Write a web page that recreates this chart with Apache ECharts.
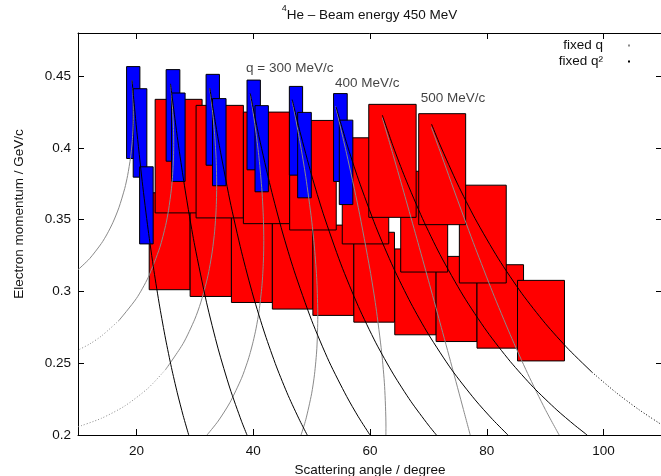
<!DOCTYPE html>
<html>
<head>
<meta charset="utf-8">
<script src="https://cdn.jsdelivr.net/npm/echarts@6/dist/echarts.min.js"></script>
<style>
  html, body { margin: 0; padding: 0; background: #fff; }
  #chart { width: 661px; height: 476px; }
</style>
</head>
<body>
<div id="chart"></div>
<script>
// 4He kinematic coverage at 450 MeV beam energy.
// Acceptance boxes: [theta min, theta max, p min, p max] (degree, GeV/c)
const lowerRedBoxes = [
  [22.19, 29.20, 0.3012, 0.3687],
  [29.20, 36.27, 0.2965, 0.3624],
  [36.27, 43.28, 0.2923, 0.3572],
  [43.28, 50.22, 0.2877, 0.3516],
  [50.22, 57.23, 0.2833, 0.3462],
  [57.23, 64.19, 0.2786, 0.3412],
  [64.24, 71.32, 0.2698, 0.3296],
  [71.32, 78.32, 0.2651, 0.3244],
  [78.32, 86.29, 0.2605, 0.3186],
  [85.26, 93.30, 0.2516, 0.3077]
];
const upperRedBoxes = [
  [23.21, 31.25, 0.3547, 0.4338],
  [30.22, 38.32, 0.3512, 0.4296],
  [38.32, 46.24, 0.3472, 0.4249],
  [46.24, 54.22, 0.3428, 0.4191],
  [55.25, 63.21, 0.3331, 0.4070],
  [65.26, 73.30, 0.3135, 0.3837],
  [59.79, 67.90, 0.3516, 0.4303],
  [75.30, 83.33, 0.3059, 0.3740],
  [68.34, 76.38, 0.3465, 0.4238]
];
const blueBoxes = [
  [18.32, 20.60, 0.3926, 0.4566],
  [19.45, 21.79, 0.3796, 0.4412],
  [20.55, 22.87, 0.3331, 0.3868],
  [25.09, 27.44, 0.3907, 0.4545],
  [26.02, 28.34, 0.3766, 0.4382],
  [31.93, 34.22, 0.3879, 0.4512],
  [33.03, 35.35, 0.3736, 0.4343],
  [38.94, 41.23, 0.3847, 0.4472],
  [40.31, 42.60, 0.3694, 0.4294],
  [46.19, 48.46, 0.3810, 0.4428],
  [47.61, 49.95, 0.3652, 0.4247],
  [53.76, 56.10, 0.3766, 0.4378],
  [54.74, 57.06, 0.3605, 0.4193]
];

// Lines of constant three-momentum transfer q: [theta, p]
const fixedQ150 = [[19.25,0.4470],[19.3,0.4442],[19.4,0.4370],[19.45,0.4313],[19.47,0.4243],[19.45,0.4174],[19.4,0.4119],[19.3,0.4052],[19.25,0.4027],[19,0.3933],[18.5,0.3808],[18,0.3717],[17,0.3583],[16,0.3482],[15,0.3401],[14,0.3334],[12,0.3229],[10,0.3151]];
const fixedQ200 = [[25.84,0.4442],[26,0.4374],[26.2,0.4267],[26.35,0.4136],[26.39,0.4031],[26.35,0.3929],[26.2,0.3808],[26,0.3715],[25.5,0.3565],[25,0.3459],[24,0.3305],[22,0.3096],[20,0.2951],[17,0.2797],[14,0.2689],[12,0.2634],[10,0.2591]];
const fixedQ250 = [[32.55,0.4416],[33,0.4267],[33.4,0.4094],[33.65,0.3926],[33.75,0.3742],[33.65,0.3566],[33.4,0.3420],[33,0.3281],[32.5,0.3160],[32,0.3066],[31,0.2920],[30,0.2807],[28,0.2637],[25,0.2456],[22,0.2326],[18,0.2202],[14,0.2116],[10,0.2057]];
const fixedQ300 = [[39.5,0.4371],[40,0.4243],[40.5,0.4099],[41,0.3929],[41.5,0.3700],[41.75,0.3503],[41.81,0.3354],[41.75,0.3212],[41.5,0.3040],[41,0.2863],[40.5,0.2744],[40,0.2652],[39.5,0.2574],[39,0.2507],[38,0.2395],[36,0.2225],[34,0.2097],[32.09,0.2000]];
const fixedQ350 = [[46.68,0.4326],[47,0.4260],[48,0.4044],[49,0.3799],[50,0.3498],[50.5,0.3302],[50.9,0.3073],[51.06,0.2828],[50.9,0.2604],[50.5,0.2423],[50,0.2287],[49,0.2106],[48.19,0.2000]];
const fixedQ400 = [[54.1,0.4290],[56,0.3959],[58,0.3583],[60,0.3151],[61,0.2896],[62,0.2574],[62.5,0.2339],[62.73,0.2062],[62.72,0.2000]];
const fixedQ450 = [[62.1,0.4211],[64,0.3945],[66,0.3661],[68,0.3371],[70,0.3078],[72,0.2781],[74,0.2481],[76,0.2177],[77.16,0.2000]];
const fixedQ500 = [[70.5,0.4145],[72,0.3976],[75,0.3636],[78,0.3307],[81,0.2994],[84,0.2700],[87,0.2428],[90,0.2179],[92.39,0.2000]];

// Lines of constant four-momentum transfer Q^2: [theta, p]
const fixedQsq150 = [[19.25,0.4470],[20,0.4145],[21,0.3764],[22,0.3433],[23,0.3145],[24,0.2892],[25,0.2668],[26,0.2470],[27,0.2294],[28,0.2136],[28.96,0.2000]];
const fixedQsq200 = [[25.84,0.4446],[27,0.4078],[28,0.3797],[29,0.3545],[30,0.3317],[32,0.2925],[34,0.2600],[36,0.2327],[38,0.2096],[38.94,0.2000]];
const fixedQsq250 = [[32.57,0.4416],[34,0.4062],[36,0.3636],[38,0.3276],[40,0.2968],[42,0.2704],[44,0.2474],[46,0.2274],[48,0.2099],[49.25,0.2000]];
const fixedQsq300 = [[39.5,0.4379],[41,0.4077],[43,0.3722],[45,0.3414],[47,0.3145],[50,0.2799],[53,0.2511],[56,0.2269],[58,0.2127],[60,0.2000]];
const fixedQsq350 = [[46.68,0.4336],[48,0.4114],[50,0.3810],[52,0.3541],[55,0.3192],[58,0.2896],[61,0.2642],[64,0.2424],[67,0.2234],[70,0.2069],[71.37,0.2000]];
const fixedQsq400 = [[54.19,0.4285],[56,0.4033],[58,0.3782],[61,0.3451],[64,0.3166],[67,0.2918],[70,0.2702],[74,0.2454],[78,0.2245],[81,0.2108],[83.62,0.2000]];
const fixedQsq450 = [[62.11,0.4228],[64,0.4006],[66,0.3793],[69,0.3507],[72,0.3256],[76,0.2968],[80,0.2723],[84,0.2513],[88,0.2331],[92,0.2174],[95,0.2070],[97.18,0.2000]];
const fixedQsq500 = [[70.54,0.4165],[72,0.4020],[75,0.3748],[78,0.3507],[82,0.3227],[86,0.2986],[90,0.2778],[94,0.2597],[98,0.2438],[102,0.2300],[106,0.2178],[110,0.2070]];

const fixedQCurves = [fixedQ150, fixedQ200, fixedQ250, fixedQ300, fixedQ350, fixedQ400, fixedQ450, fixedQ500];
const fixedQsqCurves = [fixedQsq150, fixedQsq200, fixedQsq250, fixedQsq300, fixedQsq350, fixedQsq400, fixedQsq450, fixedQsq500];

const curveLabels = ['q = 300 MeV/c', '400 MeV/c', '500 MeV/c'];
const xTickValues = [20, 40, 60, 80, 100];
const yTickValues = [0.2, 0.25, 0.3, 0.35, 0.4, 0.45];

// ---- presentation ----
const FONT = '"Liberation Sans", Arial, Helvetica, sans-serif';
const TEXT = '#111';
const FS = 13.5;
const GRAY = '#8a8a8a';

// where the sampled curves thin out into dots
const sparseParts = new Map([
  [fixedQ200, { below: 17 }],
  [fixedQ250, { below: 25 }],
  [fixedQsq500, { above: 98 }]
]);
// anchor of each curve label, in axis units
const labelAnchors = [[38.77, 0.4551], [54.01, 0.4452], [68.68, 0.4344]];

function boxSeries(name, data, fill) {
  return {
    type: 'custom', name, data, silent: true, z: 2, animation: false,
    encode: { x: [0, 1], y: [2, 3] },
    renderItem: (params, api) => {
      const tl = api.coord([api.value(0), api.value(3)]);
      const br = api.coord([api.value(1), api.value(2)]);
      return {
        type: 'rect',
        shape: { x: tl[0], y: tl[1], width: br[0] - tl[0], height: br[1] - tl[1] },
        style: { fill, stroke: '#000', lineWidth: 1 }
      };
    }
  };
}

function lineSeries(name, data, color, dotted) {
  return {
    type: 'line', name, data, silent: true, z: 3, animation: false,
    symbol: 'none', showSymbol: false, smooth: 0.25,
    itemStyle: { color },
    lineStyle: { color, width: 1, type: dotted ? [1, 2] : 'solid' }
  };
}

function curveSeries(name, pts, color) {
  const rule = sparseParts.get(pts);
  if (!rule) return [lineSeries(name, pts, color, false)];
  const k = rule.below !== undefined
    ? pts.findIndex(p => p[0] <= rule.below)
    : pts.findIndex(p => p[0] >= rule.above);
  return [
    lineSeries(name, pts.slice(0, k + 1), color, false),
    lineSeries(name, pts.slice(k), color, true)
  ];
}

const series = [
  boxSeries('lower', lowerRedBoxes, '#ff0000'),
  boxSeries('upper', upperRedBoxes, '#ff0000'),
  boxSeries('B', blueBoxes, '#0000ff')
];
fixedQCurves.forEach(c => series.push(...curveSeries('fixed q', c, GRAY)));
fixedQsqCurves.forEach(c => series.push(...curveSeries('fixed q²', c, '#000')));
series.push({
  type: 'scatter', silent: true, z: 5, animation: false, symbolSize: 0,
  data: curveLabels.map((name, i) => ({ name, value: labelAnchors[i] })),
  label: { show: true, position: 'right', distance: 0, formatter: '{b}', color: TEXT, fontSize: FS, fontFamily: FONT }
});

const axisCommon = {
  type: 'value',
  splitLine: { show: false },
  axisLine: { show: true, onZero: false, lineStyle: { color: '#000', width: 1 } }
};

const option = {
  backgroundColor: '#fff',
  animation: false,
  textStyle: { fontFamily: FONT },
  title: {
    text: '{s|4}{n|He – Beam energy 450 MeV}',
    left: 369.5, top: 4, padding: 0, textAlign: 'center',
    textStyle: {
      fontWeight: 'normal',
      rich: {
        s: { fontSize: 9, lineHeight: 18, verticalAlign: 'top', color: TEXT, fontFamily: FONT, fontWeight: 'normal' },
        n: { fontSize: FS, lineHeight: 18, verticalAlign: 'bottom', color: TEXT, fontFamily: FONT, fontWeight: 'normal' }
      }
    }
  },
  legend: {
    data: ['fixed q', 'fixed q²'],
    orient: 'vertical', right: 31, top: 37.5, align: 'right', padding: 0,
    itemGap: 0, itemWidth: 2, itemHeight: 2, icon: 'rect', selectedMode: false,
    textStyle: { fontSize: FS, fontFamily: FONT, color: TEXT, lineHeight: 16, width: 60, padding: [0, 20, 0, 0] }
  },
  grid: { left: 78, right: -1, top: 33, bottom: 41, containLabel: false, outerBoundsMode: 'none' },
  xAxis: [
    Object.assign({}, axisCommon, {
      min: 10, max: 110, position: 'bottom',
      name: 'Scattering angle / degree', nameLocation: 'middle', nameGap: 25,
      nameTextStyle: { color: TEXT, fontSize: FS, fontFamily: FONT },
      axisTick: { show: true, inside: true, length: 6, customValues: xTickValues, lineStyle: { color: '#000' } },
      axisLabel: { show: true, customValues: xTickValues, margin: 9, color: TEXT, fontSize: FS, fontFamily: FONT }
    }),
    Object.assign({}, axisCommon, {
      min: 10, max: 110, position: 'top',
      axisTick: { show: true, inside: true, length: 6, customValues: xTickValues, lineStyle: { color: '#000' } },
      axisLabel: { show: false }
    })
  ],
  yAxis: [
    Object.assign({}, axisCommon, {
      min: 0.2, max: 0.48, position: 'left',
      name: 'Electron momentum / GeV/c', nameLocation: 'middle', nameGap: 52,
      nameTextStyle: { color: TEXT, fontSize: FS, fontFamily: FONT, padding: [0, 0, 0, 40] },
      axisTick: { show: true, inside: true, length: 6, customValues: yTickValues, lineStyle: { color: '#000' } },
      axisLabel: { show: true, customValues: yTickValues, margin: 7, color: TEXT, fontSize: FS, fontFamily: FONT }
    }),
    Object.assign({}, axisCommon, {
      min: 0.2, max: 0.48, position: 'right',
      axisTick: { show: true, inside: true, length: 6, customValues: yTickValues, lineStyle: { color: '#000' } },
      axisLabel: { show: false }
    })
  ],
  series
};

const chart = echarts.init(document.getElementById('chart'), null, { renderer: 'canvas' });
chart.setOption(option);
</script>
</body>
</html>
